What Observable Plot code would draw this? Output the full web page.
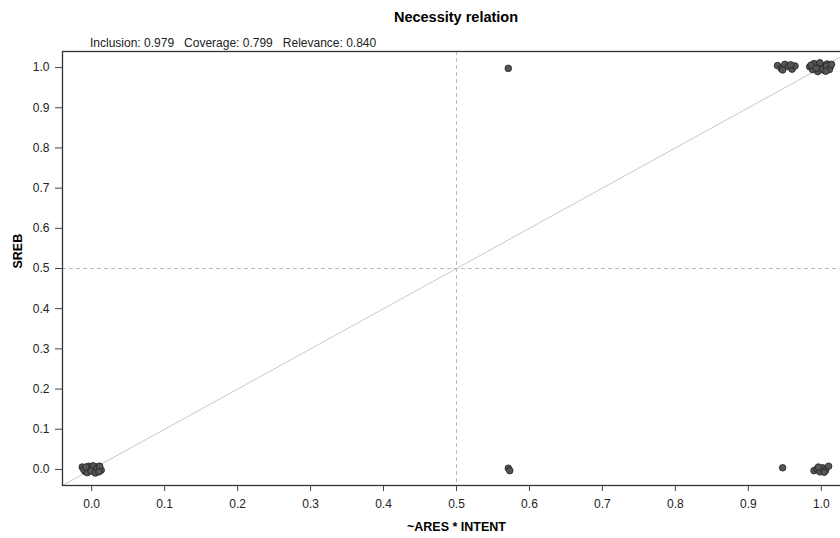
<!DOCTYPE html>
<html>
<head>
<meta charset="utf-8">
<script src="https://cdn.jsdelivr.net/npm/d3@7"></script>
<script src="https://cdn.jsdelivr.net/npm/@observablehq/plot@0.6"></script>
<style>
  html, body { margin: 0; padding: 0; background: #fff; overflow: hidden; }
  #wrap { position: relative; width: 840px; height: 538px; overflow: hidden; font-family: "Liberation Sans", Arial, sans-serif; }
  #title { position: absolute; left: 62px; width: 788px; top: 9px; text-align: center; font-weight: bold; font-size: 14.5px; color: #000; }
  #subtitle { position: absolute; left: 90px; top: 36px; font-size: 12px; color: #222; white-space: pre; }
  #chart { position: absolute; left: 0; top: 0; width: 850px; }
  #chart svg { max-width: none !important; width: 850px; height: 538px; }
</style>
</head>
<body>
<div id="wrap">
  <div id="chart"></div>
  <div id="title">Necessity relation</div>
  <div id="subtitle">Inclusion: 0.979   Coverage: 0.799   Relevance: 0.840</div>
</div>
<script>
// Jittered case positions
const caseX = [
  // cluster at (0, 0)
  -0.013, -0.009, -0.004, 0.000, 0.004, 0.009, 0.013, -0.011, -0.006, 0.002, 0.007, 0.011, -0.001, 0.005, -0.008, 0.010,
  // (0.57, 1)
  0.571,
  // (0.57, 0)
  0.571, 0.573,
  // cluster near (0.95, 1)
  0.940, 0.945, 0.950, 0.955, 0.960, 0.964, 0.947, 0.958,
  // cluster at (1, 1)
  0.984, 0.988, 0.992, 0.996, 1.000, 1.004, 1.008, 1.012, 0.990, 0.995, 1.002, 1.007, 1.011, 0.986, 0.998, 1.006, 1.014, 0.993,
  // (0.95, 0)
  0.947,
  // cluster at (1, 0)
  0.990, 0.994, 0.998, 1.002, 1.006, 1.010, 0.996, 1.004
];
const caseY = [
  0.006, -0.005, 0.008, 0.004, -0.006, 0.007, -0.002, 0.000, -0.008, 0.009, 0.002, 0.008, -0.004, -0.009, 0.006, -0.006,
  0.998,
  0.003, -0.003,
  1.005, 0.998, 1.008, 1.002, 0.996, 1.004, 0.994, 1.007,
  1.002, 0.995, 1.008, 0.999, 1.006, 0.993, 1.009, 1.001, 1.010, 0.990, 0.996, 1.004, 0.995, 1.006, 1.012, 0.991, 1.008, 0.998,
  0.004,
  -0.003, 0.001, -0.006, 0.004, -0.002, 0.008, 0.006, -0.007
];
const ticks = [0, 0.1, 0.2, 0.3, 0.4, 0.5, 0.6, 0.7, 0.8, 0.9, 1.0];
const axisDomain = [-0.04, 1.04];
const refLines = [0.5];
const xLabel = "~ARES * INTENT";
const yLabel = "SREB";

const cases = caseX.map((x, i) => ({x, y: caseY[i]}));

const plot = Plot.plot({
  width: 850,
  height: 538,
  marginLeft: 62,
  marginRight: 0,
  marginTop: 51,
  marginBottom: 53,
  style: {fontFamily: "'Liberation Sans', Arial, sans-serif", fontSize: "12px", color: "#222", background: "#fff", maxWidth: "none"},
  x: {domain: axisDomain, ticks: ticks, tickFormat: d3.format(".1f"), label: null},
  y: {domain: axisDomain, ticks: ticks, tickFormat: d3.format(".1f"), label: null},
  marks: [
    Plot.line(axisDomain, {x: d => d, y: d => d, stroke: "#c8c8c8", strokeWidth: 1}),
    Plot.ruleX(refLines, {stroke: "#bdbdbd", strokeDasharray: "4,3", strokeWidth: 1}),
    Plot.ruleY(refLines, {stroke: "#bdbdbd", strokeDasharray: "4,3", strokeWidth: 1}),
    Plot.dot(cases, {x: "x", y: "y", r: 3.3, fill: "#555", stroke: "#222", strokeWidth: 0.8}),
    Plot.frame({stroke: "#333", strokeWidth: 1.3}),
    Plot.axisX({ticks: ticks, tickFormat: d3.format(".1f"), tickSize: 6, tickPadding: 8, stroke: "#444", label: null, fill: "#222"}),
    Plot.axisY({ticks: ticks, tickFormat: d3.format(".1f"), tickSize: 7, tickPadding: 6, stroke: "#444", label: null, fill: "#222"}),
    Plot.text([xLabel], {frameAnchor: "bottom", dy: 45, fontWeight: "bold", fontSize: 12.5, fill: "#000"}),
    Plot.text([yLabel], {frameAnchor: "left", dx: -45, rotate: -90, fontWeight: "bold", fontSize: 12.5, fill: "#000"})
  ]
});
document.getElementById("chart").appendChild(plot);
</script>
</body>
</html>
